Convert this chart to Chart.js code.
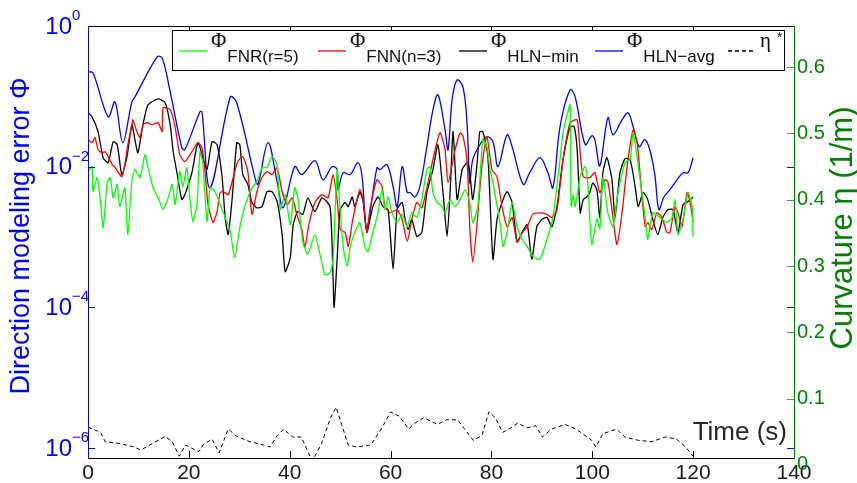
<!DOCTYPE html>
<html>
<head>
<meta charset="utf-8">
<script src="https://cdn.jsdelivr.net/npm/chart.js@4.4.1/dist/chart.umd.min.js"></script>
<style>
  html, body { margin: 0; padding: 0; background: #fff; }
</style>
</head>
<body>
<canvas id="grafico" width="857" height="483"></canvas>
<script>
// Ejes -----------------------------------------
const xTicks = [0, 20, 40, 60, 80, 100, 120, 140];
const phiTicks = [1e-6, 1e-4, 1e-2, 1];          // eje izquierdo (log)
const phiExp = ['\u22126', '\u22124', '\u22122', '0'];
const etaTicks = [0, 0.1, 0.2, 0.3, 0.4, 0.5, 0.6]; // eje derecho

// Leyenda
const legendMain = ['\u03A6', '\u03A6', '\u03A6', '\u03A6', '\u03B7'];
const legendSub = ['FNR(r=5)', 'FNN(n=3)', 'HLN\u2212min', 'HLN\u2212avg', ''];

// Series [t (s), valor] ------------------------
// Phi FNR(r=5)
const phiFNR = [[0,0.0085],[0.8,0.01],[1.0,0.0044],[1.8,0.007],[2.4,0.0036],[3.0,0.00136],[3.8,0.0059],[4.4,0.007],[5.0,0.0036],[5.8,0.0056],[6.3,0.0027],[7.3,0.005],[7.9,0.00108],[8.7,0.0061],[9.3,0.0091],[10.3,0.007],[11.3,0.0148],[11.9,0.0097],[12.9,0.005],[13.9,0.0036],[14.9,0.00245],[15.9,0.0036],[16.7,0.0056],[17.3,0.0029],[18.2,0.0085],[18.8,0.0052],[19.6,0.0097],[20.2,0.0036],[20.8,0.00166],[21.6,0.0029],[22.2,0.0163],[22.8,0.0107],[23.6,0.00166],[24.2,0.005],[25.2,0.0044],[26.2,0.0029],[27.2,0.0019],[28.2,0.0012],[29.1,0.00051],[30.1,0.00136],[31.1,0.0027],[32.5,0.005],[33.5,0.0061],[34.5,0.0097],[35.5,0.0097],[36.5,0.0139],[37.5,0.0107],[38.1,0.00245],[39.1,0.004],[40.1,0.0015],[41.0,0.005],[41.6,0.0036],[42.6,0.00086],[43.6,0.00057],[45.0,0.00108],[46.0,0.00057],[47.0,0.00029],[48.0,0.00031],[48.6,0.00048],[49.4,0.0091],[50.0,0.00245],[50.6,0.00073],[51.4,0.00038],[52.0,0.00073],[52.9,0.00116],[53.9,0.0016],[54.9,0.00073],[55.5,0.00062],[56.5,0.00116],[57.5,0.0022],[58.3,0.0047],[58.9,0.00245],[59.5,0.0037],[60.3,0.0022],[61.3,0.0016],[62.3,0.0021],[63.3,0.0014],[64.2,0.0022],[65.2,0.0019],[66.2,0.0034],[67.2,0.0091],[67.8,0.01],[68.4,0.0043],[69.2,0.0031],[70.2,0.0027],[70.8,0.0022],[71.8,0.0034],[72.8,0.0027],[73.8,0.0034],[74.8,0.0047],[75.7,0.0031],[76.3,0.0016],[77.3,0.0027],[78.3,0.0242],[79.1,0.0192],[79.7,0.0091],[80.3,0.0059],[81.7,0.0016],[82.3,0.00073],[83.1,0.00116],[84.1,0.0031],[85.1,0.0014],[86.1,0.00092],[87.1,0.00073],[88.2,0.00053],[89.6,0.00048],[91.0,0.00092],[92.2,0.0019],[93.6,0.0126],[94.2,0.0303],[95.2,0.062],[95.6,0.0757],[95.8,0.0027],[96.2,0.004],[96.6,0.0027],[97.6,0.0072],[98.6,0.01],[99.1,0.0059],[99.9,0.00078],[100.9,0.0018],[101.5,0.0013],[102.1,0.007],[103.1,0.0022],[104.1,0.0014],[105.1,0.0043],[106.5,0.0114],[107.5,0.0126],[108.1,0.0303],[109.5,0.0065],[110.5,0.0019],[111.0,0.00092],[112.0,0.0022],[113.4,0.0019],[114.8,0.0016],[115.8,0.0019],[116.4,0.0034],[117.0,0.00108],[118.0,0.0018],[119.0,0.0043],[119.8,0.0027],[120,0.001]];

// Phi FNN(n=3)
const phiFNN = [[0,0.0242],[0.8,0.0219],[1.4,0.0258],[2.0,0.0174],[2.8,0.0158],[3.4,0.0163],[4.0,0.0139],[4.8,0.0107],[5.4,0.0097],[5.9,0.0085],[6.7,0.0072],[7.3,0.0107],[7.9,0.0205],[8.7,0.0394],[8.9,0.0464],[9.7,0.0314],[10.3,0.0258],[10.9,0.0394],[11.7,0.0421],[12.7,0.0394],[13.9,0.0421],[14.7,0.0314],[14.9,0.0687],[16.3,0.0644],[17.3,0.0357],[18.2,0.0148],[19.2,0.0118],[20.6,0.0163],[21.8,0.0219],[22.6,0.0186],[23.2,0.0085],[23.8,0.0029],[24.8,0.0016],[25.6,0.0023],[26.2,0.0043],[26.8,0.0044],[27.8,0.004],[28.8,0.007],[29.7,0.0118],[30.7,0.0139],[31.7,0.0085],[32.5,0.0021],[33.5,0.0044],[34.5,0.007],[35.5,0.0085],[36.5,0.0077],[37.5,0.0097],[38.5,0.0044],[39.5,0.0029],[40.5,0.0036],[41.4,0.0021],[42.4,0.00128],[43.0,0.00071],[43.8,0.0015],[45.0,0.0031],[46.4,0.004],[47.6,0.0036],[48.6,0.0077],[49.4,0.0034],[50.0,0.00128],[51.0,0.00116],[51.6,0.00073],[52.5,0.00177],[53.9,0.0047],[54.5,0.0037],[55.3,0.00116],[55.9,0.00245],[57.3,0.0065],[58.3,0.0052],[58.9,0.0027],[59.9,0.0022],[61.3,0.00245],[62.3,0.00177],[63.3,0.00086],[64.2,0.00177],[65.2,0.0031],[66.2,0.0026],[67.2,0.005],[68.4,0.0126],[69.8,0.0303],[70.8,0.0174],[71.4,0.0059],[72.8,0.0174],[73.8,0.0303],[74.4,0.0267],[75.2,0.0114],[75.7,0.0014],[76.3,0.00044],[77.1,0.0014],[78.1,0.01],[79.1,0.0267],[80.1,0.0091],[81.1,0.0072],[82.1,0.0027],[83.1,0.0014],[84.1,0.0019],[85.1,0.00084],[86.1,0.00116],[87.1,0.0014],[88.2,0.0021],[89.6,0.0022],[91.0,0.0021],[92.0,0.0019],[93.0,0.00245],[94.2,0.0126],[95.6,0.0421],[97.0,0.0464],[97.6,0.0158],[98.2,0.0072],[99.5,0.007],[100.5,0.0082],[101.5,0.0043],[102.5,0.0065],[103.1,0.0061],[104.1,0.0019],[104.9,0.00078],[105.9,0.0022],[106.9,0.01],[108.1,0.0335],[108.9,0.0219],[109.9,0.0034],[110.5,0.0014],[111.0,0.0016],[111.8,0.00128],[112.8,0.0022],[113.8,0.0019],[114.8,0.00116],[115.4,0.00116],[116.4,0.0027],[117.0,0.0022],[117.8,0.0014],[118.8,0.0043],[119.4,0.0031],[120,0.0016]];

// Phi HLN-min
const phiHLNmin = [[0,0.0583],[0.8,0.0512],[2.0,0.0314],[3.0,0.0134],[4.0,0.0114],[5.0,0.0226],[5.8,0.0205],[6.7,0.0077],[7.7,0.0134],[8.7,0.0394],[9.3,0.0242],[9.9,0.0158],[10.9,0.0394],[11.9,0.0757],[13.9,0.0922],[15.3,0.081],[16.3,0.0394],[16.9,0.0163],[17.6,0.0085],[18.6,0.0034],[19.2,0.004],[20.6,0.0082],[21.8,0.0219],[22.8,0.0134],[23.6,0.0091],[24.6,0.0226],[25.6,0.0205],[26.6,0.007],[27.2,0.0019],[27.8,0.00108],[28.6,0.0036],[29.5,0.0219],[30.1,0.0205],[30.7,0.0077],[31.7,0.0056],[32.5,0.0031],[33.5,0.0026],[34.5,0.0027],[35.5,0.0044],[36.5,0.0044],[37.5,0.0032],[38.5,0.00108],[39.1,0.00032],[40.1,0.00051],[40.7,0.0015],[41.6,0.0023],[42.6,0.0021],[43.6,0.0036],[45.0,0.0023],[46.4,0.0036],[48.0,0.0027],[48.6,0.00025],[48.8,0.0001],[49.4,0.00048],[50.0,0.00245],[51.0,0.0031],[51.6,0.0027],[52.4,0.0037],[52.9,0.0027],[53.9,0.0043],[54.5,0.0034],[55.3,0.00116],[55.9,0.00177],[56.5,0.0027],[57.5,0.0037],[58.5,0.0027],[59.5,0.00245],[60.5,0.00035],[61.3,0.00245],[62.3,0.0031],[62.9,0.00177],[63.5,0.00128],[64.2,0.00177],[65.2,0.00102],[66.2,0.00116],[67.2,0.0043],[68.4,0.0091],[69.4,0.0205],[70.4,0.0043],[71.2,0.00102],[71.8,0.0043],[72.4,0.0314],[73.2,0.0034],[74.2,0.0091],[75.2,0.0114],[75.7,0.0082],[76.3,0.0034],[77.1,0.01],[77.7,0.0314],[78.3,0.0314],[79.3,0.0139],[80.3,0.00048],[81.1,0.00177],[82.1,0.0031],[83.1,0.0044],[84.1,0.0031],[85.1,0.00086],[86.1,0.00116],[87.1,0.0015],[88.0,0.00048],[89.0,0.0014],[90.0,0.00177],[91.0,0.0019],[92.0,0.0014],[93.0,0.0027],[94.2,0.0126],[95.6,0.0369],[96.4,0.0369],[97.0,0.0174],[97.6,0.0022],[98.2,0.0034],[98.9,0.0037],[99.5,0.0043],[100.1,0.0059],[100.9,0.0047],[101.5,0.0019],[102.1,0.0082],[102.9,0.0134],[103.9,0.0065],[104.5,0.0019],[105.5,0.0082],[106.5,0.013],[107.5,0.0126],[108.5,0.0052],[109.1,0.0027],[110.1,0.0043],[111.0,0.0034],[112.0,0.00177],[113.0,0.00108],[114.0,0.0019],[115.0,0.00245],[116.0,0.00245],[117.0,0.00116],[118.0,0.0029],[119.0,0.0032],[120,0.0037]];

// Phi HLN-avg
const phiHLNavg = [[0,0.223],[1.0,0.215],[4.0,0.051],[5.35,0.0836],[6.9,0.0219],[8.7,0.0836],[9.3,0.098],[13.7,0.363],[14.7,0.352],[16.3,0.116],[18.6,0.0186],[19.2,0.0174],[22.2,0.0603],[22.6,0.0603],[24.2,0.005],[28.2,0.098],[29.5,0.081],[33.1,0.007],[33.7,0.0056],[35.7,0.0219],[37.5,0.0061],[38.7,0.0026],[41.0,0.01],[42.4,0.0077],[45.0,0.0122],[46.6,0.0065],[48.4,0.01],[49.4,0.0091],[49.6,0.0047],[50.6,0.0082],[52.0,0.0077],[53.5,0.0114],[54.3,0.0077],[55.3,0.00136],[57.3,0.0097],[57.9,0.0091],[59.3,0.0107],[60.5,0.0052],[61.3,0.0027],[62.3,0.01],[63.3,0.0043],[63.9,0.0043],[64.8,0.0037],[65.8,0.0052],[67.2,0.0192],[68.4,0.0644],[69.4,0.105],[70.8,0.0335],[71.4,0.0174],[72.2,0.0892],[73.2,0.171],[74.4,0.132],[75.2,0.0369],[75.7,0.0059],[76.3,0.0126],[77.7,0.0205],[79.1,0.0267],[80.3,0.0226],[81.3,0.01],[83.1,0.0284],[84.1,0.0192],[86.3,0.0056],[87.6,0.0082],[89.6,0.0134],[91.2,0.0082],[92.2,0.005],[93.6,0.0369],[95.6,0.124],[96.6,0.098],[98.6,0.0205],[99.9,0.0275],[100.5,0.0242],[101.5,0.0103],[103.1,0.0495],[104.1,0.0284],[105.9,0.0464],[107.1,0.0583],[108.1,0.0369],[109.3,0.0192],[110.4,0.0242],[111.4,0.0174],[112.4,0.0077],[113.2,0.00245],[114.2,0.0037],[115.4,0.0047],[116.8,0.0065],[118.0,0.0082],[119.0,0.0082],[120,0.0134]];

// eta* (eje derecho, 1/m)
const etaStar = [[0,0.057],[2.5,0.049],[3.4,0.035],[6.5,0.032],[9.1,0.027],[10.5,0.0225],[12.7,0.032],[15.3,0.043],[16.7,0.035],[18.1,0.013],[19.3,0.030],[20.6,0.025],[22.0,0.020],[22.8,0.030],[24.6,0.039],[26.0,0.018],[27.8,0.054],[29.5,0.043],[32.1,0.035],[34.8,0.030],[36.1,0.027],[37.5,0.044],[38.8,0.054],[40.6,0.042],[42.3,0.042],[43.6,0.020],[44.5,0.006],[46.3,0.032],[48.1,0.071],[49.2,0.087],[50.3,0.061],[51.6,0.030],[53.3,0.027],[56.1,0.030],[58.3,0.056],[60.0,0.080],[61.8,0.073],[63.6,0.054],[64.8,0.063],[66.6,0.071],[69.3,0.061],[71.1,0.068],[73.3,0.068],[74.7,0.054],[76.4,0.037],[78.1,0.044],[79.5,0.080],[80.8,0.071],[82.2,0.049],[83.9,0.056],[85.2,0.063],[87.1,0.056],[88.8,0.059],[90.1,0.042],[91.9,0.054],[94.6,0.061],[96.8,0.054],[99.9,0.037],[100.7,0.027],[102.1,0.047],[104.8,0.054],[106.5,0.042],[109.2,0.037],[111.8,0.035],[114.4,0.042],[116.7,0.039],[118.5,0.027],[120,0.013]];

const aPuntos = (serie) => serie.map(p => ({ x: p[0], y: p[1] }));

const AZUL = '#0000ff';
const VERDE = '#008000';

// Marco estilo MATLAB, ticks hacia dentro, titulos y leyenda
const marcoEjes = {
  id: 'marcoEjes',
  afterDatasetsDraw(chart) {
    const ctx = chart.ctx;
    const a = chart.chartArea;
    const sx = chart.scales.x, sy = chart.scales.y, sy2 = chart.scales.y2;
    const tl = 7;
    ctx.save();
    ctx.setLineDash([]);
    ctx.lineWidth = 1;

    // ticks eje x (abajo y arriba)
    ctx.strokeStyle = '#000';
    xTicks.forEach(v => {
      const px = Math.round(sx.getPixelForValue(v)) + 0.5;
      ctx.beginPath();
      ctx.moveTo(px, a.bottom); ctx.lineTo(px, a.bottom - tl);
      ctx.moveTo(px, a.top); ctx.lineTo(px, a.top + tl);
      ctx.stroke();
    });
    // ticks eje izquierdo (log) en ambos lados
    ctx.strokeStyle = AZUL;
    phiTicks.forEach(v => {
      const py = Math.round(sy.getPixelForValue(v)) + 0.5;
      ctx.beginPath();
      ctx.moveTo(a.left, py); ctx.lineTo(a.left + tl, py);
      ctx.moveTo(a.right, py); ctx.lineTo(a.right - tl, py);
      ctx.stroke();
    });
    // ticks eje derecho
    ctx.strokeStyle = '#5f8a5f';
    etaTicks.forEach(v => {
      const py = Math.round(sy2.getPixelForValue(v)) + 0.5;
      if (py > a.bottom || py < a.top) return;
      ctx.beginPath();
      ctx.moveTo(a.right, py); ctx.lineTo(a.right - tl, py);
      ctx.stroke();
    });

    // marco
    ctx.strokeStyle = '#000';
    ctx.beginPath();
    ctx.moveTo(a.left, a.top + 0.5); ctx.lineTo(a.right, a.top + 0.5);
    ctx.moveTo(a.left, a.bottom + 0.5); ctx.lineTo(a.right, a.bottom + 0.5);
    ctx.stroke();
    ctx.strokeStyle = AZUL;
    ctx.beginPath(); ctx.moveTo(a.left + 0.5, a.top); ctx.lineTo(a.left + 0.5, a.bottom + 1); ctx.stroke();
    ctx.strokeStyle = VERDE;
    ctx.beginPath(); ctx.moveTo(a.right + 0.5, a.top); ctx.lineTo(a.right + 0.5, a.bottom + 1); ctx.stroke();

    // etiquetas 10^n
    ctx.fillStyle = AZUL;
    ctx.textBaseline = 'middle';
    phiTicks.forEach((v, i) => {
      const py = sy.getPixelForValue(v);
      ctx.font = '24px "Liberation Sans", Arial, sans-serif';
      ctx.textAlign = 'right';
      ctx.fillText('10', 72, py + 1);
      ctx.font = '15px "Liberation Sans", Arial, sans-serif';
      ctx.textAlign = 'left';
      ctx.fillText(phiExp[i], 72, py - 10);
    });

    // titulos
    ctx.textAlign = 'center';
    ctx.textBaseline = 'middle';
    ctx.save();
    ctx.translate(22, 236);
    ctx.rotate(-Math.PI / 2);
    ctx.fillStyle = AZUL;
    ctx.font = '27px "Liberation Sans", Arial, sans-serif';
    ctx.fillText('Direction modeling error \u03A6', 0, 0);
    ctx.restore();

    ctx.save();
    ctx.translate(843, 228);
    ctx.rotate(-Math.PI / 2);
    ctx.fillStyle = VERDE;
    ctx.font = '31px "Liberation Sans", Arial, sans-serif';
    ctx.fillText('Curvature \u03B7 (1/m)', 0, 0);
    ctx.restore();

    ctx.fillStyle = '#262626';
    ctx.textAlign = 'right';
    ctx.font = '26px "Liberation Sans", Arial, sans-serif';
    ctx.fillText('Time (s)', 787, 433);

    // leyenda
    const lx0 = 172, ly0 = 30, lx1 = 784, ly1 = 70;
    ctx.fillStyle = '#fff';
    ctx.fillRect(lx0, ly0, lx1 - lx0, ly1 - ly0);
    ctx.strokeStyle = '#000';
    ctx.strokeRect(lx0 + 0.5, ly0 + 0.5, lx1 - lx0, ly1 - ly0);
    const inicio = [179, 318, 459, 595, 728];
    chart.data.datasets.forEach((ds, i) => {
      let x = inicio[i];
      ctx.strokeStyle = ds.borderColor;
      ctx.lineWidth = 1.3;
      ctx.setLineDash(ds.borderDash || []);
      ctx.beginPath(); ctx.moveTo(x, 51); ctx.lineTo(x + 28, 51); ctx.stroke();
      ctx.setLineDash([]);
      x += 32;
      ctx.fillStyle = '#111';
      ctx.textAlign = 'left';
      ctx.textBaseline = 'alphabetic';
      ctx.font = '21px "Liberation Serif", "Times New Roman", serif';
      ctx.fillText(legendMain[i], x, 47);
      x += ctx.measureText(legendMain[i]).width + 1;
      if (legendSub[i]) {
        ctx.font = '17px "Liberation Sans", Arial, sans-serif';
        ctx.fillText(legendSub[i], x, 62);
      } else {
        ctx.font = '14px "Liberation Sans", Arial, sans-serif';
        ctx.fillText('*', x + 5, 42);
      }
    });
    ctx.restore();
  }
};

const ctx = document.getElementById('grafico');

const grafico = new Chart(ctx, {
  type: 'line',
  data: {
    datasets: [
      { label: 'FNR(r=5)', data: aPuntos(phiFNR), borderColor: '#00ff00', yAxisID: 'y', tension: 0.2 },
      { label: 'FNN(n=3)', data: aPuntos(phiFNN), borderColor: '#ff0000', yAxisID: 'y', tension: 0.2 },
      { label: 'HLN-min', data: aPuntos(phiHLNmin), borderColor: '#000000', yAxisID: 'y', tension: 0.2 },
      { label: 'HLN-avg', data: aPuntos(phiHLNavg), borderColor: '#0000ff', yAxisID: 'y', tension: 0.35 },
      { label: 'eta*', data: aPuntos(etaStar), borderColor: '#000000', borderDash: [4, 3], borderWidth: 1, yAxisID: 'y2', tension: 0 }
    ]
  },
  options: {
    responsive: false,
    animation: false,
    devicePixelRatio: 1,
    layout: { padding: { top: 26, left: 0, right: 0, bottom: 0 } },
    plugins: { legend: { display: false }, tooltip: { enabled: false } },
    elements: { point: { radius: 0 }, line: { borderWidth: 1.3, fill: false } },
    scales: {
      x: {
        type: 'linear', min: 0, max: 140,
        grid: { display: false, drawTicks: false },
        border: { display: false },
        afterBuildTicks: s => { s.ticks = xTicks.map(v => ({ value: v })); },
        afterFit: s => { s.height = 25; },
        ticks: { color: '#1a1a1a', padding: 3, maxRotation: 0, autoSkip: false,
                 font: { family: '"Liberation Sans", Arial, sans-serif', size: 21 } }
      },
      y: {
        type: 'logarithmic', position: 'left', min: 7.2e-7, max: 1,
        grid: { display: false, drawTicks: false },
        border: { display: false },
        afterBuildTicks: s => { s.ticks = phiTicks.map(v => ({ value: v })); },
        afterFit: s => { s.width = 88; },
        ticks: { display: false }
      },
      y2: {
        type: 'linear', position: 'right', min: 0.0104, max: 0.662,
        grid: { display: false, drawTicks: false },
        border: { display: false },
        afterBuildTicks: s => { s.ticks = etaTicks.map(v => ({ value: v })); },
        afterFit: s => { s.width = 63; },
        ticks: { color: VERDE, padding: 3,
                 font: { family: '"Liberation Sans", Arial, sans-serif', size: 20 },
                 callback: v => (v === 0 ? '0' : v.toFixed(1)) }
      }
    }
  },
  plugins: [marcoEjes]
});
</script>
</body>
</html>
